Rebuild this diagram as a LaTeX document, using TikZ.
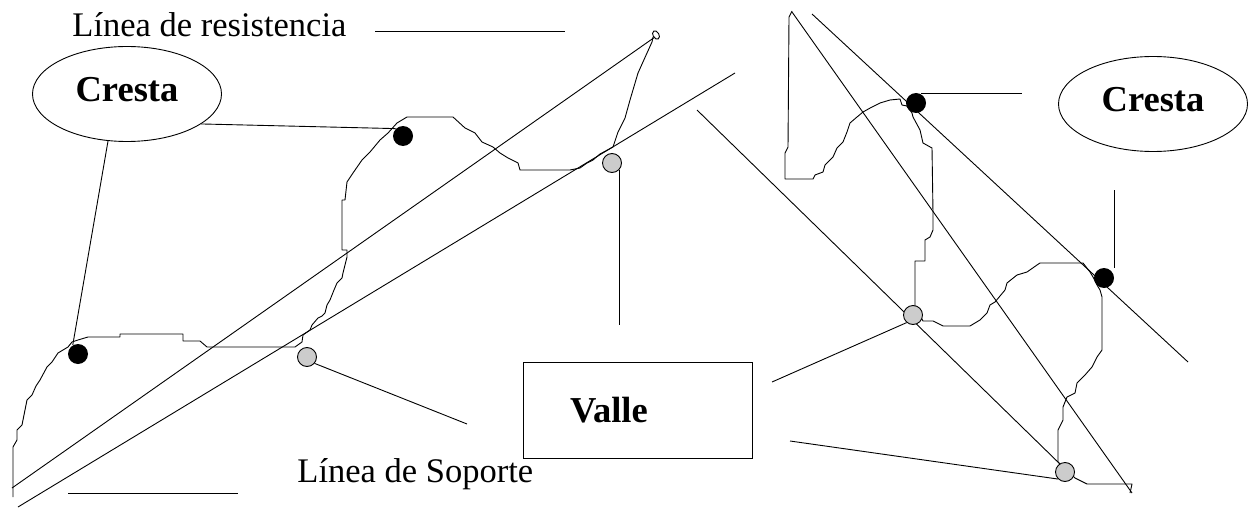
\documentclass[tikz,border=0pt]{standalone}
\usepackage{fontspec}
\setmainfont{Liberation Serif}
\usetikzlibrary{shapes.geometric, positioning, calc}

\begin{document}
\begin{tikzpicture}[
    x=1pt, y=-1pt,
    line width=0.9pt,
    crest/.style={ellipse, draw, minimum width=189pt, minimum height=95pt, font=\fontsize{36.5}{40}\selectfont\bfseries, text depth=9pt},
    valley/.style={rectangle, draw, minimum width=229pt, minimum height=96pt, font=\fontsize{36.5}{40}\selectfont\bfseries, text width=135pt, align=left},
    caption/.style={font=\fontsize{34.5}{40}\selectfont, inner sep=0pt, anchor=base west},
    peak/.style={circle, fill=black, inner sep=0pt, minimum size=20pt},
    trough/.style={circle, draw, fill=gray!40, inner sep=0pt, minimum size=19pt},
    price/.style={line join=round}
]
    \useasboundingbox (0,0) rectangle (1249,508);

    % Labels
    \node[caption] (resist) at (72,37) {Línea de resistencia};
    \node[caption] (soporte) at (297,482) {Línea de Soporte};
    \node[crest] (cresta1) at (127,94) {Cresta};
    \node[crest] (cresta2) at (1153,104) {Cresta};
    \node[valley] (valle) at (637.5,410) {Valle};

    % Trend lines - left chart
    \draw (12,488) -- (655,37);
    \draw (18,507) -- (735,73);
    % Trend lines - right chart
    \draw (792,12) -- (1132,493);
    \draw (812,14) -- (1188,362);
    \draw (697,110) -- (1062,466);

    % Price curve - left chart
    \draw[price] (13,497) -- (13,447) -- (17,440) -- (17,430) -- (22,425) -- (25,410) -- (27,400)
        -- (32,395) -- (36,386) -- (40,380) -- (47,367) -- (52,362) -- (58,353) -- (63,350)
        -- (68,347) -- (72,342) -- (78,340) -- (88,337) -- (120,337) -- (120,334) -- (183,334)
        -- (183,341) -- (200,341) -- (207,347) -- (295,347) -- (302,342) -- (303,335) -- (310,330)
        -- (312,325) -- (318,318) -- (322,316) -- (325,313) -- (327,305) -- (330,300) -- (334,290)
        -- (337,283) -- (342,278) -- (343,273) -- (347,257) -- (347,250) -- (342,250) -- (342,200)
        -- (345,200) -- (347,182) -- (353,173) -- (362,160) -- (370,152) -- (380,140) -- (388,133)
        -- (397,123) -- (407,117) -- (453,117) -- (465,128) -- (475,133) -- (482,142) -- (493,147)
        -- (500,153) -- (508,158) -- (518,163) -- (520,170) -- (570,170) -- (580,168) -- (587,163)
        -- (593,160) -- (600,154) -- (613,147) -- (618,132) -- (625,118) -- (630,100) -- (638,73)
        -- (647,53) -- (652,42) -- (653,37);
    \draw (656,35) ellipse [x radius=3, y radius=4.5, rotate=30];

    % Price curve - right chart
    \draw[price] (792,11) -- (789,17) -- (788,147) -- (785,153) -- (785,179) -- (813,179) -- (815,175)
        -- (823,172) -- (825,165) -- (833,157) -- (837,148) -- (843,142) -- (847,132) -- (850,123)
        -- (857,117) -- (863,112) -- (872,107) -- (880,103) -- (890,100) -- (900,99) -- (902,105)
        -- (907,106) -- (912,113) -- (913,117) -- (920,130) -- (923,143) -- (932,148) -- (933,213)
        -- (933,230) -- (930,237) -- (925,240) -- (925,261) -- (915,261) -- (915,307) -- (923,321)
        -- (933,321) -- (943,326) -- (970,326) -- (980,320) -- (987,313) -- (990,305) -- (995,302)
        -- (1005,290) -- (1007,283) -- (1017,275) -- (1027,272) -- (1037,265) -- (1040,263)
        -- (1083,263) -- (1090,272) -- (1093,277) -- (1097,285) -- (1100,290) -- (1102,297)
        -- (1102,350) -- (1097,357) -- (1092,367) -- (1085,375) -- (1080,380) -- (1077,383)
        -- (1075,393) -- (1067,397) -- (1063,407) -- (1063,420) -- (1058,430) -- (1058,462)
        -- (1075,478) -- (1087,484) -- (1132,484) -- (1130,493);

    % Peaks and troughs
    \node[peak] (pk1) at (78,354) {};
    \node[peak] (pk2) at (403,136) {};
    \node[peak] (pk3) at (916,103) {};
    \node[peak] (pk4) at (1104,278) {};
    \node[trough] (tr1) at (307,357) {};
    \node[trough] (tr2) at (612,163) {};
    \node[trough] (tr3) at (913,315) {};
    \node[trough] (tr4) at (1065,472) {};

    % Leader lines
    \coordinate (rs1) at (375,31);
    \coordinate (rs2) at (565,31);
    \draw (rs1) -- (rs2);
    \coordinate (sp1) at (68,493);
    \coordinate (sp2) at (238,493);
    \draw (sp1) -- (sp2);
    \draw (cresta1.-22) -- (pk2.135);
    \draw (cresta1.-112) -- (pk1.120);
    \coordinate (c3) at (1022,93);
    \draw (pk3.60) -- (pk3.60 -| c3);
    \coordinate (c4) at (1114,190);
    \draw (c4) -- (c4 |- pk4.north);
    \coordinate (v1) at (621,325);
    \draw (tr2.-45) -- (tr2.-45 |- v1);
    \coordinate (v2) at (467,424);
    \draw (tr1.-40) -- (v2);
    \coordinate (v3) at (772,382);
    \draw (v3) -- (tr3.-130);
    \coordinate (v4) at (790,441);
    \draw (v4) -- (tr4.-135);
\end{tikzpicture}
\end{document}
